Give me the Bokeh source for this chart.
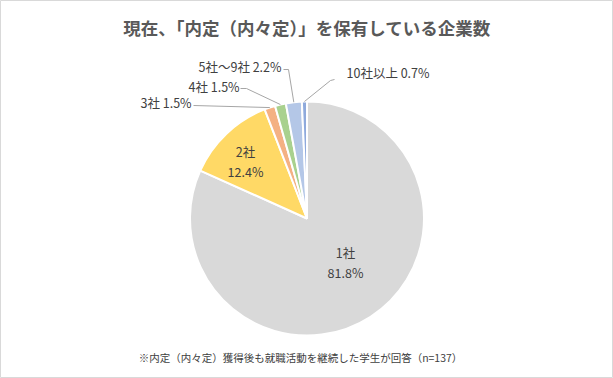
import math
from bokeh.plotting import figure
from bokeh.models import Range1d
from bokeh.core.properties import value
from bokeh.embed import file_html
from bokeh.resources import INLINE

# ---- data ----
categories = ["1社", "2社", "3社", "4社", "5社～9社", "10社以上"]
percents = [81.8, 12.4, 1.5, 1.5, 2.2, 0.7]
pct_labels = ["81.8%", "12.4%", "1.5%", "1.5%", "2.2%", "0.7%"]
colors = ["#d9d9d9", "#ffd966", "#f4b183", "#a9d18e", "#b4c7e7", "#8faadc"]
title_text = "現在、「内定（内々定）」を保有している企業数"
note_text = "※内定（内々定）獲得後も就職活動を継続した学生が回答（n=137）"

W, H = 613, 378
FONT = "Noto Sans CJK JP"
TXT = "#404040"

p = figure(width=W, height=H, output_backend="svg", toolbar_location=None,
           x_range=Range1d(0, W), y_range=Range1d(0, H), min_border=0)
p.axis.visible = False
p.grid.visible = False
p.outline_line_color = "#d9d9d9"
p.outline_line_width = 1
p.background_fill_color = "white"
p.border_fill_color = "white"

cx, cy, r = 306.5, H - 218, 117
total = sum(percents)
starts, ends, mids = [], [], []
cum = 0.0
for v in percents:
    a0 = math.pi / 2 - 2 * math.pi * cum / total
    cum += v
    a1 = math.pi / 2 - 2 * math.pi * cum / total
    starts.append(a0)
    ends.append(a1)
    mids.append((a0 + a1) / 2)

p.wedge(x=[cx] * len(percents), y=[cy] * len(percents), radius=r,
        start_angle=starts, end_angle=ends, direction="clock",
        fill_color=colors, line_color="white", line_width=2)

# inside labels
inner = {0: (345, 252, 272), 1: (245, 151, 171)}
for i, (lx, ly1, ly2) in inner.items():
    p.text(x=[lx, lx], y=[H - ly1, H - ly2], text=[categories[i], pct_labels[i]],
           text_font=value(FONT), text_font_size="12.5px", text_color=TXT,
           text_align="center", text_baseline="middle")

# outside labels with leader lines: (label x, label y, align, elbow points)
outside = {
    2: (140, 102, "left", [(193, 105)]),
    3: (188, 86, "left", [(240, 88), (246, 88)]),
    4: (198, 66, "left", [(283, 69), (288, 69)]),
    5: (346, 72, "left", [(334, 79), (330, 80)]),
}
for i, (lx, ly, al, pts) in outside.items():
    ex = cx + r * math.cos(mids[i])
    ey = cy + r * math.sin(mids[i])
    xs = [pt[0] for pt in pts] + [ex]
    ys = [H - pt[1] for pt in pts] + [ey]
    p.line(xs, ys, line_color="#a6a6a6", line_width=1)
    p.text(x=[lx], y=[H - ly], text=[categories[i] + " " + pct_labels[i]],
           text_font=value(FONT), text_font_size="12.5px", text_color=TXT,
           text_align=al, text_baseline="middle")

p.text(x=[W / 2], y=[H - 27], text=[title_text], text_font=value(FONT),
       text_font_size="17.5px", text_font_style="bold", text_color="#595959",
       text_align="center", text_baseline="middle")
p.text(x=[300], y=[H - 357], text=[note_text], text_font=value(FONT),
       text_font_size="10.5px", text_color=TXT,
       text_align="center", text_baseline="middle")

open("out.html", "w").write(file_html(p, INLINE))
